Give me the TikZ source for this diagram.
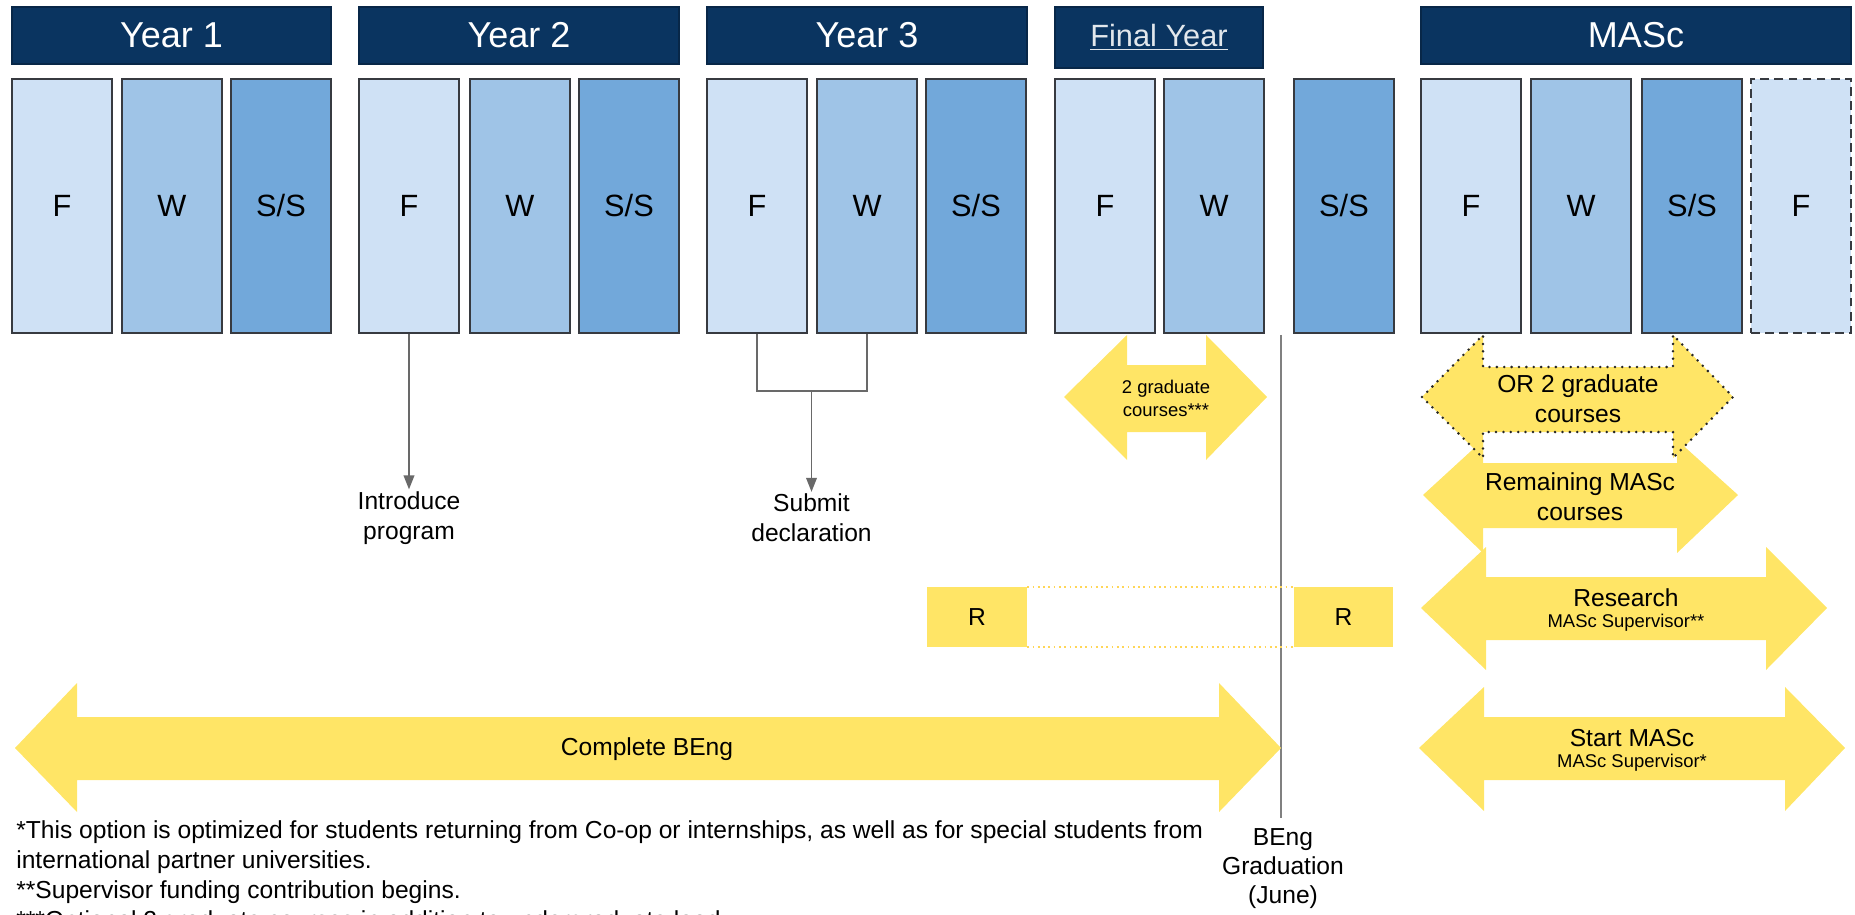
\documentclass[tikz,border=0pt]{standalone}
\usepackage{fontspec}
\setmainfont{Liberation Sans}
\usetikzlibrary{arrows.meta}

\definecolor{navy}{RGB}{10,52,96}
\definecolor{fallc}{RGB}{207,225,245}
\definecolor{winc}{RGB}{159,196,231}
\definecolor{sumc}{RGB}{114,168,218}
\definecolor{boxline}{RGB}{55,58,64}
\definecolor{gold}{RGB}{255,229,102}
\definecolor{linec}{RGB}{105,105,105}

\begin{document}
\begin{tikzpicture}[x=0.02cm, y=-0.02cm,
		term/.style={draw=boxline, line width=1.1pt, minimum width=2cm, minimum height=5.08cm, inner sep=0pt, font=\fontsize{17.5}{20}\selectfont},
		fallterm/.style={term, fill=fallc},
		winterm/.style={term, fill=winc},
		sumterm/.style={term, fill=sumc},
		yearbar/.style={draw=navy!75!black, fill=navy, line width=0.8pt, text=white, minimum height=1.14cm, inner sep=0pt, font=\fontsize{20.5}{24}\selectfont},
		conn/.style={draw=linec, line width=1.1pt},
		tip/.style={-{Triangle[width=6pt, length=8pt]}},
		band/.style={fill=gold},
		lbl/.style={align=center, inner sep=1pt, font=\fontsize{14}{17}\selectfont},
		sublbl/.style={inner sep=1pt, font=\fontsize{10.5}{12}\selectfont},
		note/.style={anchor=base west, inner sep=0pt, font=\fontsize{14}{17}\selectfont}]

		\useasboundingbox (0,0) rectangle (1855,915);

		\node[yearbar, minimum width=6.38cm] (Y1) at (171.5,35.5) {Year 1};
		\node[yearbar, minimum width=6.4cm] (Y2) at (519,35.5) {Year 2};
		\node[yearbar, minimum width=6.4cm] (Y3) at (867,35.5) {Year 3};
		\node[yearbar, minimum width=4.16cm, minimum height=1.22cm, text=white!88!navy, font=\fontsize{17.5}{20}\selectfont] (YF) at (1159,37.5) {\underline{Final Year}};
		\node[yearbar, minimum width=8.6cm] (YM) at (1636,35.5) {MASc};

		\node[fallterm] (F1) at (62,206) {F};
		\node[winterm] (W1) at (172,206) {W};
		\node[sumterm] (S1) at (281,206) {S/S};

		\node[fallterm] (F2) at (409,206) {F};
		\node[winterm] (W2) at (520,206) {W};
		\node[sumterm] (S2) at (629,206) {S/S};

		\node[fallterm] (F3) at (757,206) {F};
		\node[winterm] (W3) at (867,206) {W};
		\node[sumterm] (S3) at (976,206) {S/S};

		\node[fallterm] (F4) at (1105,206) {F};
		\node[winterm] (W4) at (1214,206) {W};
		\node[sumterm] (S4) at (1344,206) {S/S};

		\node[fallterm] (F5) at (1471,206) {F};
		\node[winterm] (W5) at (1581,206) {W};
		\node[sumterm] (S5) at (1692,206) {S/S};
		\node[fallterm, dashed, dash pattern=on 5pt off 3pt] (F6) at (1801,206) {F};

		\node[lbl] (intro) at (409,518) {Introduce\\program};
		\draw[conn, tip] (F2.south) -- (intro.north);

		\coordinate (bk) at (811.5,391);
		\node[lbl] (submit) at (811.5,518) {Submit\\declaration};
		\draw[conn] (F3.south) |- (bk) -| (W3.south);
		\draw[conn, tip] (bk) -- (submit.north);

		\node[lbl, font=\fontsize{14}{16.5}\selectfont] (grad) at (1283,869) {BEng\\Graduation\\(June)};
		\coordinate (gtop) at (1281,335);
		\draw[draw=linec!85, line width=1.1pt, shorten >=5pt] (gtop) -- (gtop |- grad.north);

		\fill[band] (1064,397) -- (1127,335) -- (1127,365) -- (1206,365) -- (1206,335) -- (1267,397)
			-- (1206,460) -- (1206,432) -- (1127,432) -- (1127,460) -- cycle;
		\node[lbl, font=\fontsize{10.5}{13}\selectfont] (grad2) at (1166,398) {2 graduate\\courses***};

		\fill[band] (1423,495) -- (1483,440) -- (1483,463) -- (1677,463) -- (1677,440) -- (1738,495)
			-- (1677,553) -- (1677,528) -- (1483,528) -- (1483,553) -- cycle;
		\node[lbl] (remain) at (1580,497) {Remaining MASc\\courses};

		\filldraw[band, draw=black!85, line width=1.6pt, line cap=round, dash pattern=on 0pt off 4.2pt]
			(1422,397) -- (1483,335) -- (1483,367) -- (1673,367) -- (1673,335) -- (1733,397)
			-- (1673,458) -- (1673,432) -- (1483,432) -- (1483,458) -- cycle;
		\node[lbl] (orgrad) at (1578,399) {OR 2 graduate\\courses};

		\fill[band] (1421,608) -- (1486,547) -- (1486,577) -- (1766,577) -- (1766,547) -- (1827,608)
			-- (1766,670) -- (1766,640) -- (1486,640) -- (1486,670) -- cycle;
		\node[lbl] (res) at (1626,598) {Research};
		\node[sublbl] (ressup) at (1626,623) {MASc Supervisor**};

		\fill[band] (1419,748) -- (1484,687) -- (1484,717) -- (1785,717) -- (1785,687) -- (1845,748)
			-- (1785,811) -- (1785,780) -- (1484,780) -- (1484,811) -- cycle;
		\node[lbl] (start) at (1632,738) {Start MASc};
		\node[sublbl] (startsup) at (1632,763) {MASc Supervisor*};

		\fill[band] (15,748) -- (77,683) -- (77,717) -- (1219,717) -- (1219,683) -- (1281,748)
			-- (1219,812) -- (1219,780) -- (77,780) -- (77,812) -- cycle;
		\node[lbl] (beng) at (647,749) {Complete BEng};

		\node[band, minimum width=2cm, minimum height=1.2cm, inner sep=0pt, font=\fontsize{14}{17}\selectfont] (R1) at (977,617) {R};
		\node[band, minimum width=1.98cm, minimum height=1.2cm, inner sep=0pt, font=\fontsize{14}{17}\selectfont] (R2) at (1343.5,617) {R};
		\draw[gold!85!orange, line width=1pt, dotted] (R1.north east) -- (R2.north west) (R1.south east) -- (R2.south west);

		\node[note] (n1) at (16,838) {*This option is optimized for students returning from Co-op or internships, as well as for special students from};
		\node[note] (n2) at (16,868) {international partner universities.};
		\node[note] (n3) at (16,898) {**Supervisor funding contribution begins.};
		\node[note] (n4) at (16,928) {***Optional 2 graduate courses in addition to undergraduate load};
	\end{tikzpicture}
\end{document}
